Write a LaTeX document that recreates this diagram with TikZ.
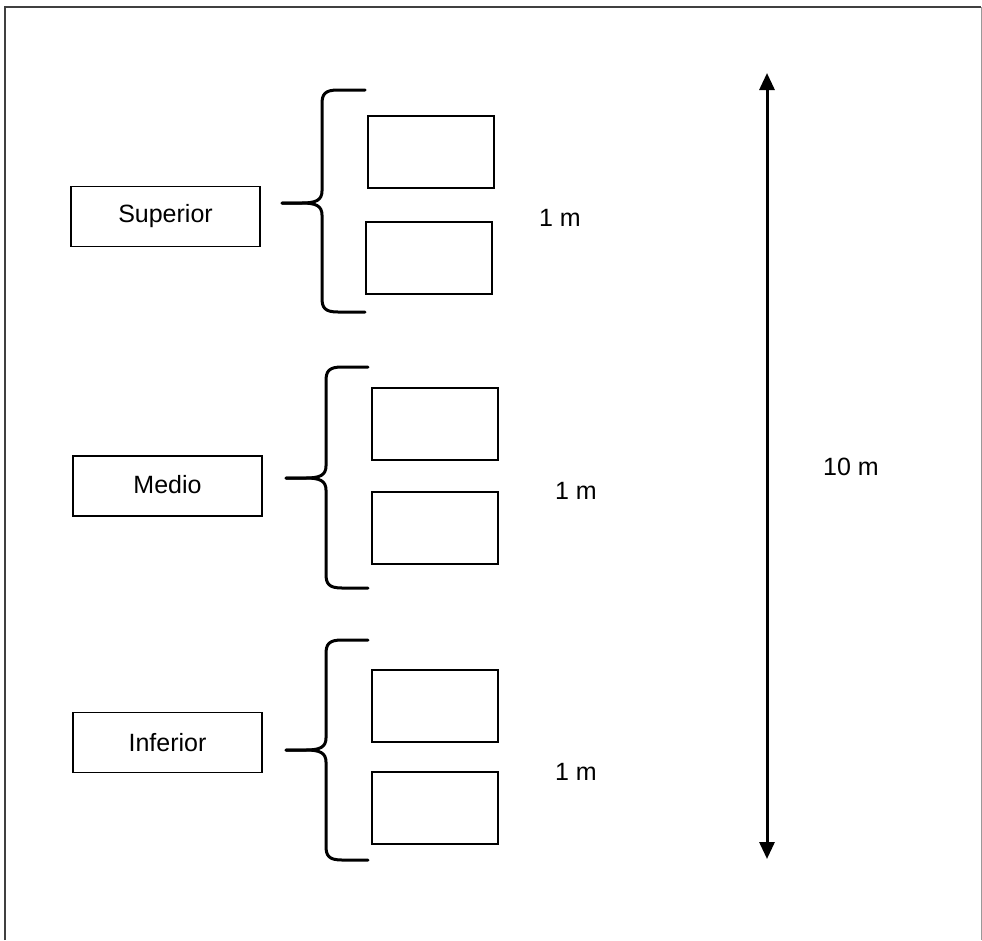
\documentclass[tikz,border=0pt]{standalone}
\usepackage{fontspec}
\setmainfont{Liberation Sans}
\usetikzlibrary{arrows.meta}
\tikzset{
  labelbox/.style={draw=black, line width=1.3pt, minimum width=189pt, minimum height=60pt, inner sep=0pt, font=\fontsize{25}{30}\selectfont},
  cellbox/.style={draw=black, line width=1.3pt, minimum width=126pt, minimum height=72pt, inner sep=0pt},
  dimtext/.style={font=\fontsize{25}{30}\selectfont},
  bracepath/.style={line width=3pt, line cap=round, line join=round},
}
% curly brace: tip at x0, spine at x1, open ends at x2; top, middle, bottom y
\newcommand{\groupbrace}[6]{%
  \draw[bracepath] (#3,#4) -- (#2+16,#4) .. controls (#2+3,#4) and (#2,#4+4) .. (#2,#4+14)
    -- (#2,#5-12) .. controls (#2,#5-3) and (#2-6,#5) .. (#2-20,#5) -- (#1,#5);
  \draw[bracepath] (#1,#5) -- (#2-20,#5) .. controls (#2-6,#5) and (#2,#5+3) .. (#2,#5+12)
    -- (#2,#6-14) .. controls (#2,#6-4) and (#2+3,#6) .. (#2+16,#6) -- (#3,#6);
}
\begin{document}
\begin{tikzpicture}[x=1pt,y=-1pt]
  \useasboundingbox (0,0) rectangle (982,940);
  % outer frame, open at the bottom
  \draw[line width=2pt, draw=black!75] (5,940) -- (5,7) -- (981,7);
  \draw[line width=0.8pt, draw=black!40] (981,7) -- (981,940);

  % upper level
  \node[labelbox] (sup) at (165.5,216.5) {Superior};
  \node[cellbox] (sa) at (431,152) {};
  \node[cellbox] (sb) at (429,258) {};
  \node[dimtext] (sm) at (560,218) {1 m};
  \groupbrace{282}{322}{365}{90}{203}{312}

  % middle level
  \node[labelbox, text depth=4pt] (med) at (167.5,486) {Medio};
  \node[cellbox] (ma) at (435,424) {};
  \node[cellbox] (mb) at (435,528) {};
  \node[dimtext] (mm) at (576,491) {1 m};
  \groupbrace{286}{326}{368}{367}{478}{588}

  % lower level
  \node[labelbox] (inf) at (167.5,742.5) {Inferior};
  \node[cellbox] (ia) at (435,706) {};
  \node[cellbox] (ib) at (435,808) {};
  \node[dimtext] (im) at (576,772) {1 m};
  \groupbrace{286}{326}{368}{640}{750}{860}

  % total height
  \coordinate (htop) at (767,73);
  \coordinate (hbot) at (767,859);
  \draw[line width=3pt, {Triangle[width=15pt,length=17pt]}-{Triangle[width=15pt,length=17pt]}] (htop) -- (hbot);
  \node[dimtext] (ht) at (851,467) {10 m};
\end{tikzpicture}
\end{document}
